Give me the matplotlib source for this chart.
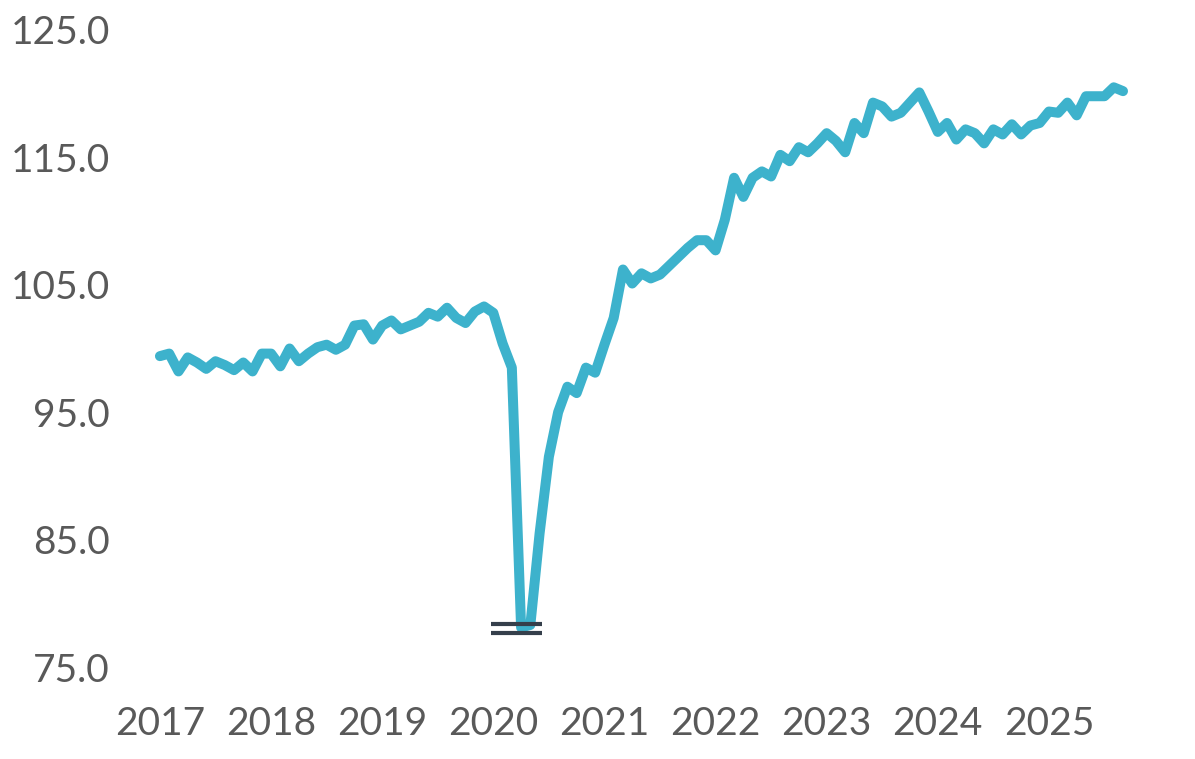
import matplotlib
matplotlib.use("Agg")
import matplotlib.pyplot as plt
import numpy as np
import pandas as pd

# Monthly index values, Jan 2017 - Sep 2025 (Apr/May 2020 shown truncated at the axis break)
values_2017 = [99.4, 99.6, 98.2, 99.3, 98.9, 98.4, 99.0, 98.7, 98.3, 98.9, 98.2, 99.6]
values_2018 = [99.6, 98.6, 100.0, 99.0, 99.6, 100.1, 100.3, 99.9, 100.3, 101.8, 101.9, 100.7]
values_2019 = [101.8, 102.2, 101.5, 101.8, 102.1, 102.8, 102.5, 103.2, 102.4, 102.0, 102.9, 103.3]
values_2020 = [102.8, 100.4, 98.5, 78.1, 78.3, 85.5, 91.5, 95.0, 97.0, 96.5, 98.5, 98.1]
values_2021 = [100.3, 102.4, 106.2, 105.1, 105.9, 105.5, 105.8, 106.5, 107.2, 107.9, 108.5, 108.5]
values_2022 = [107.7, 110.1, 113.4, 111.9, 113.4, 113.9, 113.5, 115.2, 114.7, 115.8, 115.4, 116.1]
values_2023 = [116.9, 116.3, 115.4, 117.7, 116.9, 119.3, 119.0, 118.2, 118.5, 119.3, 120.1, 118.6]
values_2024 = [117.0, 117.7, 116.4, 117.2, 116.9, 116.1, 117.2, 116.8, 117.6, 116.8, 117.5, 117.7]
values_2025 = [118.6, 118.5, 119.3, 118.3, 119.8, 119.8, 119.8, 120.5, 120.2]

values = (values_2017 + values_2018 + values_2019 + values_2020 + values_2021
          + values_2022 + values_2023 + values_2024 + values_2025)
dates = pd.date_range("2017-01-01", periods=len(values), freq="MS")
year_labels = ["2017", "2018", "2019", "2020", "2021", "2022", "2023", "2024", "2025"]
y_ticks = [75.0, 85.0, 95.0, 105.0, 115.0, 125.0]

plt.rcParams['font.family'] = ['Lato', 'DejaVu Sans']

fig = plt.figure(figsize=(11.95, 7.59), dpi=100)
ax = fig.add_axes([0.1106, 0.1212, 0.8524, 0.8393])

x = np.arange(len(values))
ax.plot(x, values, color="#3DB2CC", linewidth=7.2, solid_joinstyle="round",
        solid_capstyle="round", zorder=2)

# axis break marker at the truncated trough
vals = np.array(values)
i_min = int(np.argmin(vals))
v_min = vals[i_min]
for dv in (0.3, -0.4):
    ax.plot([i_min - 3.3, i_min + 2.3], [v_min + dv, v_min + dv], color="#353F4B",
            linewidth=3.0, solid_capstyle="butt", zorder=3)

tick_pos = [list(dates.year).index(int(y)) for y in year_labels]
ax.set_xticks(tick_pos)
ax.set_xticklabels(year_labels)
ax.set_yticks(y_ticks)
ax.set_yticklabels([f"{v:.1f}" for v in y_ticks])
ax.set_xlim(-3, 107)
ax.set_ylim(75, 125)

for s in ax.spines.values():
    s.set_visible(False)
ax.tick_params(axis="both", length=0, labelsize=28, labelcolor="#595959")
ax.tick_params(axis="y", pad=16)
ax.tick_params(axis="x", pad=28)

fig.savefig("out.png", dpi=100, facecolor="white")
